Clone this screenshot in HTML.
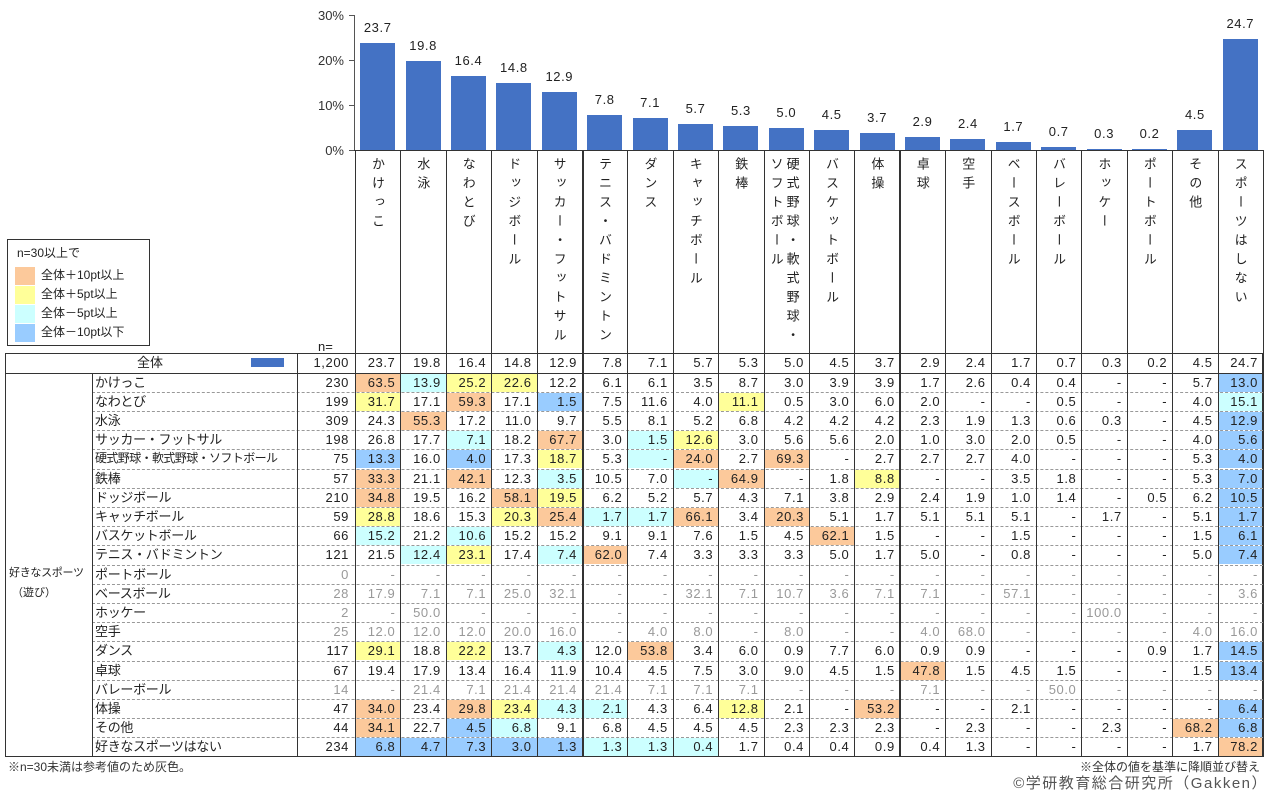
<!DOCTYPE html>
<html><head><meta charset="utf-8">
<style>
body{margin:0;width:1272px;height:798px;background:#fff;position:relative;overflow:hidden;font-family:"Liberation Sans","Noto Sans CJK JP",sans-serif;color:#222;}
.a{position:absolute;}
.t{position:absolute;font-size:13px;white-space:nowrap;line-height:19px;}
.num{text-align:right;letter-spacing:0.6px;}
.v{position:absolute;writing-mode:vertical-rl;text-orientation:upright;font-size:13px;letter-spacing:6px;line-height:17px;}
</style></head><body>
<div id="root"></div>
<script>
const cols=["かけっこ","水泳","なわとび","ドッジボール","サッカー・フットサル","テニス・バドミントン","ダンス","キャッチボール","鉄棒","硬式野球・軟式野球・\nソフトボール","バスケットボール","体操","卓球","空手","ベースボール","バレーボール","ホッケー","ポートボール","その他","スポーツはしない"];
const tot=["23.7","19.8","16.4","14.8","12.9","7.8","7.1","5.7","5.3","5.0","4.5","3.7","2.9","2.4","1.7","0.7","0.3","0.2","4.5","24.7"];
const rows=[
["かけっこ","230",0,"63.5o 13.9c 25.2y 22.6y 12.2 6.1 6.1 3.5 8.7 3.0 3.9 3.9 1.7 2.6 0.4 0.4 - - 5.7 13.0b"],
["なわとび","199",0,"31.7y 17.1 59.3o 17.1 1.5b 7.5 11.6 4.0 11.1y 0.5 3.0 6.0 2.0 - - 0.5 - - 4.0 15.1c"],
["水泳","309",0,"24.3 55.3o 17.2 11.0 9.7 5.5 8.1 5.2 6.8 4.2 4.2 4.2 2.3 1.9 1.3 0.6 0.3 - 4.5 12.9b"],
["サッカー・フットサル","198",0,"26.8 17.7 7.1c 18.2 67.7o 3.0 1.5c 12.6y 3.0 5.6 5.6 2.0 1.0 3.0 2.0 0.5 - - 4.0 5.6b"],
["硬式野球・軟式野球・ソフトボール","75",0,"13.3b 16.0 4.0b 17.3 18.7y 5.3 -c 24.0o 2.7 69.3o - 2.7 2.7 2.7 4.0 - - - 5.3 4.0b"],
["鉄棒","57",0,"33.3o 21.1 42.1o 12.3 3.5c 10.5 7.0 -c 64.9o - 1.8 8.8y - - 3.5 1.8 - - 5.3 7.0b"],
["ドッジボール","210",0,"34.8o 19.5 16.2 58.1o 19.5y 6.2 5.2 5.7 4.3 7.1 3.8 2.9 2.4 1.9 1.0 1.4 - 0.5 6.2 10.5b"],
["キャッチボール","59",0,"28.8y 18.6 15.3 20.3y 25.4o 1.7c 1.7c 66.1o 3.4 20.3o 5.1 1.7 5.1 5.1 5.1 - 1.7 - 5.1 1.7b"],
["バスケットボール","66",0,"15.2c 21.2 10.6c 15.2 15.2 9.1 9.1 7.6 1.5 4.5 62.1o 1.5 - - 1.5 - - - 1.5 6.1b"],
["テニス・バドミントン","121",0,"21.5 12.4c 23.1y 17.4 7.4c 62.0o 7.4 3.3 3.3 3.3 5.0 1.7 5.0 - 0.8 - - - 5.0 7.4b"],
["ポートボール","0",1,"- - - - - - - - - - - - - - - - - - - -"],
["ベースボール","28",1,"17.9 7.1 7.1 25.0 32.1 - - 32.1 7.1 10.7 3.6 7.1 7.1 - 57.1 - - - - 3.6"],
["ホッケー","2",1,"- 50.0 - - - - - - - - - - - - - - 100.0 - - -"],
["空手","25",1,"12.0 12.0 12.0 20.0 16.0 - 4.0 8.0 - 8.0 - - 4.0 68.0 - - - - 4.0 16.0"],
["ダンス","117",0,"29.1y 18.8 22.2y 13.7 4.3c 12.0 53.8o 3.4 6.0 0.9 7.7 6.0 0.9 0.9 - - - 0.9 1.7 14.5b"],
["卓球","67",0,"19.4 17.9 13.4 16.4 11.9 10.4 4.5 7.5 3.0 9.0 4.5 1.5 47.8o 1.5 4.5 1.5 - - 1.5 13.4b"],
["バレーボール","14",1,"- 21.4 7.1 21.4 21.4 21.4 7.1 7.1 7.1 - - - 7.1 - - 50.0 - - - -"],
["体操","47",0,"34.0o 23.4 29.8o 23.4y 4.3c 2.1c 4.3 6.4 12.8y 2.1 - 53.2o - - 2.1 - - - - 6.4b"],
["その他","44",0,"34.1o 22.7 4.5b 6.8c 9.1 6.8 4.5 4.5 4.5 2.3 2.3 2.3 - 2.3 - - 2.3 - 68.2o 6.8b"],
["好きなスポーツはない","234",0,"6.8b 4.7b 7.3b 3.0b 1.3b 1.3c 1.3c 0.4c 1.7 0.4 0.4 0.9 0.4 1.3 - - - - 1.7 78.2o"]];
const C={o:"#fcc99b",y:"#ffff99",c:"#ccffff",b:"#99ccff"};
const X0=355,W=45.4,XR=1263,TOP=353,HR=372.5,RH=19.2;
let h="";
function box(x,y,w,hh,st){h+=`<div class="a" style="left:${x}px;top:${y}px;width:${w}px;height:${hh}px;${st}"></div>`;}
function txt(x,y,w,s,st,cls){h+=`<div class="t ${cls||''}" style="left:${x}px;top:${y}px;width:${w}px;${st||''}">${s}</div>`;}
box(354,15,1,136,"background:#555");
[30,20,10,0].forEach((p,i)=>{let y=150-p*4.5;box(349,y,5,1,"background:#555");txt(300,y-9,44,p+"%","text-align:right;color:#333");});
tot.forEach((v,i)=>{let cx=X0+W*(i+0.5),hh=parseFloat(v)*4.5;box(cx-17.5,150-hh,35,hh,"background:#4472c4");txt(cx-25,150-hh-25,50,v,"text-align:center;letter-spacing:0.6px");});
box(354,150,XR-354,1,"background:#333");
cols.forEach((c,i)=>{let x=X0+W*i;
 if(c.includes("\n")){let p=c.split("\n");h+=`<div class="v" style="left:${x+20}px;top:157px">${p[0]}</div><div class="v" style="left:${x+4}px;top:157px">${p[1]}</div>`;}
 else h+=`<div class="v" style="left:${x+14}px;top:157px">${c}</div>`;});
box(7,239,143,107,"border:1px solid #333;box-sizing:border-box");
txt(17,244,120,"n=30以上で","font-size:12px");
[["#fcc99b","全体＋10pt以上"],["#ffff99","全体＋5pt以上"],["#ccffff","全体－5pt以上"],["#99ccff","全体－10pt以下"]].forEach((l,i)=>{box(15,267+i*19,20,18,"background:"+l[0]);txt(41,267+i*19-1,110,l[1],"font-size:12px");});
txt(318,337,30,"n=","");
rows.forEach((r,ri)=>{let y=HR+ri*RH;r[3].split(" ").forEach((v,ci)=>{let k=v.slice(-1);if(C[k])box(X0+W*ci+1,y+1,W-1,RH-1,"background:"+C[k]);});});
box(5,TOP,XR-5,757-TOP,"border:1px solid #333;box-sizing:border-box");
box(5,HR,XR-5,1,"background:#333");
for(let ri=1;ri<20;ri++)box(92,HR+ri*RH,XR-92,0,"border-top:1px dashed #999");
box(92,HR,1,757-HR,"background:#333");
box(297,TOP,1,757-TOP,"background:#333");
for(let i=0;i<=20;i++){let x=X0+W*i,th=(i==5||i==12)?2:1;box(x-(th>1?0.5:0),150,th,757-150,"background:#333");}
txt(100,TOP,100,"全体","text-align:center");
box(251,358,33,9,"background:#4472c4");
txt(297,TOP,52,"1,200","","num");
tot.forEach((v,i)=>txt(X0+W*i,TOP,W-5,v,"","num"));
rows.forEach((r,ri)=>{let y=HR+ri*RH,col=r[2]?"color:#999":"";
 let st=r[0].length>12?"font-size:12px;letter-spacing:-0.6px":"letter-spacing:-0.3px";
 txt(95,y,200,r[0],st);
 txt(297,y,52,r[1],col,"num");
 r[3].split(" ").forEach((v,ci)=>{let k=v.slice(-1),s=C[k]?v.slice(0,-1):v;txt(X0+W*ci,y,W-5,s,col,"num");});});
txt(9,564,82,"好きなスポーツ","font-size:11px;letter-spacing:-0.3px");
txt(12,584,80,"（遊び）","font-size:11px");
txt(8,758,300,"※n=30未満は参考値のため灰色。","font-size:12px;color:#333");
txt(900,758,360,"※全体の値を基準に降順並び替え","font-size:12px;text-align:right;color:#333");
txt(900,773,368,"©学研教育総合研究所（Gakken）","font-size:15px;text-align:right;color:#555;letter-spacing:1.5px;line-height:22px");
document.getElementById("root").innerHTML=h;
</script>
</body></html>
